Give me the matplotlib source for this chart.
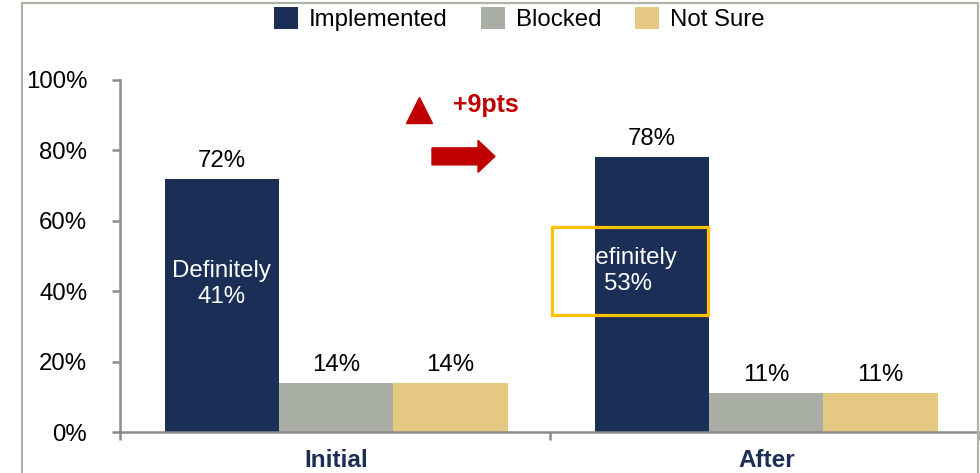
import matplotlib
matplotlib.use('Agg')
import matplotlib.pyplot as plt
import matplotlib.patches as mpatches
import numpy as np

plt.rcParams['font.family'] = ['Liberation Sans', 'DejaVu Sans']

# data
categories = ['Initial', 'After']
implemented = [72, 78]
blocked = [14, 11]
not_sure = [14, 11]
definitely = [41, 53]
series_names = ['Implemented', 'Blocked', 'Not Sure']
change_label = '+9pts'

navy = '#1a2e56'
grey = '#a8aea3'
sand = '#e5c882'
red = '#c00000'
axis_grey = '#8a8a8a'
fs = 17.3

fig = plt.figure(figsize=(9.8, 4.73), dpi=100)
ax = fig.add_axes([120 / 980, 41 / 473, 860 / 980, 352 / 473])

x = np.arange(len(categories)) + 0.503
w = 0.266
series = [implemented, blocked, not_sure]
colors = [navy, grey, sand]
all_bars = []
for i, (vals, c, name) in enumerate(zip(series, colors, series_names)):
    bars = ax.bar(x + (i - 1) * w, vals, w, color=c, label=name, zorder=2)
    all_bars.append(bars)
    for b, v in zip(bars, vals):
        ax.annotate(f'{v}%', (b.get_x() + b.get_width() / 2, v),
                    xytext=(0, 5), textcoords='offset points',
                    ha='center', va='bottom', fontsize=fs)

ax.set_xlim(0, 2)
ax.set_ylim(0, 100)

# spines and ticks
for s in ['top', 'right']:
    ax.spines[s].set_visible(False)
for s in ['left', 'bottom']:
    ax.spines[s].set_color(axis_grey)
    ax.spines[s].set_linewidth(1.8)

ax.set_yticks(range(0, 101, 20))
ax.set_yticklabels([f'{v}%' for v in range(0, 101, 20)], fontsize=fs)
ax.tick_params(axis='y', direction='out', length=6, width=1.8,
               color=axis_grey, pad=17.5)

ax.set_xticks([0, 1, 2])
ax.set_xticklabels([])
ax.tick_params(axis='x', which='major', direction='out', length=6,
               width=1.8, color=axis_grey)
ax.set_xticks(x, minor=True)
ax.set_xticklabels(categories, minor=True, fontsize=17.5,
                   fontweight='bold', color=navy)
ax.tick_params(axis='x', which='minor', length=0, pad=12)

# "Definitely" share inside the implemented bars
ax.text(x[0] - w, 42, f'Definitely\n{definitely[0]}%', color='white',
        ha='center', va='center', fontsize=fs, zorder=3)
t2 = ax.text(1.181, 45.7, f'Definitely\n{definitely[1]}%', color='white',
             ha='center', va='center', fontsize=fs, zorder=3)
t2.set_clip_path(all_bars[0][1])
ax.add_patch(mpatches.Rectangle((1.005, 33.2), 0.3628, 25.0, fill=False,
                                edgecolor='#ffc000', linewidth=2.3, zorder=4))

# change callout
ax.plot([0.6953], [91.5], marker='^', markersize=18.5, color=red,
        clip_on=False, zorder=4)
ax.text(0.851, 93.0, change_label, color=red, fontsize=18,
        fontweight='bold', ha='center', va='center')
ax.add_patch(mpatches.FancyArrow(0.7256, 78.3, 0.1465, 0, width=4.83,
                                 head_width=9.1, head_length=0.0395,
                                 length_includes_head=True, color=red,
                                 clip_on=False, zorder=4))

fig.legend(loc='upper center', bbox_to_anchor=(519 / 980, 1.03), ncol=3,
           frameon=False, fontsize=fs, handlelength=1.0, handleheight=1.0,
           handletextpad=0.45, columnspacing=1.4)

# outer frame
fig.add_artist(mpatches.Rectangle((22 / 980, -0.05), 956 / 980, 1.05 - 3 / 473,
                                  transform=fig.transFigure, fill=False,
                                  edgecolor='#b0b5aa', linewidth=1.6))

fig.savefig('out.png', dpi=100)
